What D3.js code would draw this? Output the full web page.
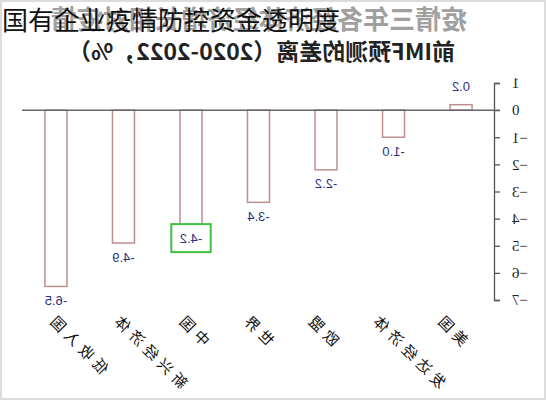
<!DOCTYPE html>
<html>
<head>
<meta charset="utf-8">
<script src="https://cdn.jsdelivr.net/npm/d3@7"></script>
<style>
  body { margin: 0; background: #fff; }
</style>
</head>
<body>
<div id="chart"></div>
<script>
const categories = ["美国", "发达经济体", "欧盟", "世界", "中国", "新兴经济体", "低收入国"];
const gaps = [0.2, -1.0, -2.2, -3.4, -4.2, -4.9, -6.5];
const gapLabels = ["0.2", "-1.0", "-2.2", "-3.4", "-4.2", "-4.9", "-6.5"];
const yTicks = [1, 0, -1, -2, -3, -4, -5, -6, -7];
const highlighted = ["中国"];
const titleLines = ["疫情三年各经济体经济增长相对疫情", "前IMF预测的差离（2020-2022，%）"];
const overlayTitle = "国有企业疫情防控资金透明度";

const width = 546, height = 400;

const svg = d3.select("#chart").append("svg")
    .attr("width", width)
    .attr("height", height);

svg.append("rect")
    .attr("x", 1).attr("y", 1)
    .attr("width", width - 2).attr("height", height - 2)
    .attr("fill", "#fff")
    .attr("stroke", "#dcdcdc")
    .attr("stroke-width", 2);

// the picture is a left-right mirror of the chart, so draw it normally and flip it
const g = svg.append("g")
    .attr("transform", "translate(" + width + ",0) scale(-1,1)");

const x = d3.scaleBand()
    .domain(categories)
    .range([51, 524])
    .paddingInner(0.674)
    .paddingOuter(0.34);

// rotated category labels sit on a slightly tighter spacing than the bars
const xLabel = d3.scalePoint()
    .domain(categories)
    .range([100, 488]);

const y = d3.scaleLinear()
    .domain([-7, 1])
    .range([300, 83]);

// titles
g.append("text")
    .attr("x", 79).attr("y", 29)
    .attr("font-family", "Noto Sans CJK SC")
    .attr("font-weight", "bold")
    .attr("font-size", 26)
    .attr("fill", "#a0a0a0")
    .text(titleLines[0]);

g.append("text")
    .attr("x", 91).attr("y", 60)
    .attr("font-family", "Noto Sans CJK SC")
    .attr("font-weight", "bold")
    .attr("font-size", 23)
    .attr("fill", "#222")
    .text(titleLines[1]);

// y axis
const yAxis = d3.axisLeft(y)
    .tickValues(yTicks)
    .tickFormat(d3.format("d"))
    .tickSize(5)
    .tickSizeOuter(5)
    .tickPadding(12);

const axisG = g.append("g")
    .attr("transform", "translate(" + x.range()[0] + ",0)")
    .call(yAxis);
axisG.select(".domain").attr("stroke", "#555").attr("stroke-width", 1.3);
axisG.selectAll(".tick line").attr("stroke", "#555").attr("stroke-width", 1.3);
axisG.selectAll(".tick text")
    .attr("font-family", "Liberation Serif")
    .attr("font-size", 15)
    .attr("fill", "#222");

// bars
g.selectAll("rect.bar")
    .data(gaps)
    .join("rect")
    .attr("class", "bar")
    .attr("x", (d, i) => x(categories[i]))
    .attr("width", x.bandwidth())
    .attr("y", d => y(Math.max(0, d)))
    .attr("height", d => Math.abs(y(d) - y(0)))
    .attr("fill", "#fff")
    .attr("stroke", "#bf8f8f")
    .attr("stroke-width", 1.5);

// zero line
g.append("line")
    .attr("x1", x.range()[0] - 5).attr("x2", x.range()[1])
    .attr("y1", y(0)).attr("y2", y(0))
    .attr("stroke", "#666")
    .attr("stroke-width", 1.5);

// value labels
const labels = g.selectAll("text.val")
    .data(gaps)
    .join("text")
    .attr("class", "val")
    .attr("x", (d, i) => x(categories[i]) + x.bandwidth() / 2)
    .attr("y", d => d >= 0 ? y(d) - 18 : y(d) + 14)
    .attr("dy", "0.35em")
    .attr("text-anchor", "middle")
    .attr("font-family", "Liberation Sans")
    .attr("font-size", 13)
    .attr("fill", "#2b2f80")
    .text((d, i) => gapLabels[i]);

// green box round the highlighted label
labels.filter((d, i) => highlighted.includes(categories[i])).each(function () {
  const b = this.getBBox();
  g.append("rect")
      .attr("x", b.x - 8.5).attr("y", b.y - 6.5)
      .attr("width", b.width + 17).attr("height", b.height + 13)
      .attr("fill", "none")
      .attr("stroke", "#3fc23f")
      .attr("stroke-width", 2);
});

// category labels
g.selectAll("text.cat")
    .data(categories)
    .join("text")
    .attr("class", "cat")
    .attr("transform", d => "translate(" + (xLabel(d) + 12.5) + ",319) rotate(-45)")
    .attr("text-anchor", "end")
    .attr("font-family", "Noto Sans CJK SC")
    .attr("font-size", 15)
    .attr("letter-spacing", 5)
    .attr("fill", "#111")
    .text(d => d);

// overlaid headline, not mirrored
svg.append("text")
    .attr("x", 2).attr("y", 30)
    .attr("font-family", "Noto Sans CJK SC")
    .attr("font-size", 26)
    .attr("fill", "#111")
    .text(overlayTitle);
</script>
</body>
</html>
